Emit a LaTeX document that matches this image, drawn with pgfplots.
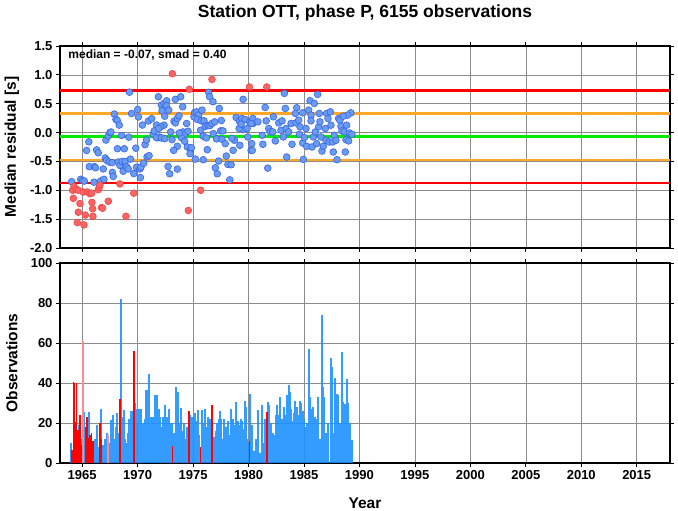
\documentclass[border=0pt]{standalone}
\usepackage{fontspec}
\setmainfont{Liberation Sans}
\usepackage{pgfplots}
\pgfplotsset{compat=1.18}
\definecolor{gridgray}{RGB}{140,140,140}
\definecolor{lineorange}{RGB}{255,168,40}
\definecolor{linegreen}{RGB}{0,235,0}
\definecolor{ptblue}{RGB}{105,155,240}
\definecolor{ptblueedge}{RGB}{55,100,230}
\definecolor{ptred}{RGB}{250,100,100}
\definecolor{ptrededge}{RGB}{238,70,70}
\definecolor{barblue}{RGB}{30,144,255}
\definecolor{lightred}{RGB}{255,140,140}
\pgfplotsset{
  myaxis/.style={
    scale only axis, width=610pt,
    xmin=1963, xmax=2018,
    xtick={1965,1970,...,2015},
    grid=major, major grid style={gridgray, line width=0.6pt},
    tick align=outside, major tick length=4pt,
    every tick/.style={black, line width=0.8pt},
    axis line style={line width=1.3pt},
    tick label style={font=\bfseries\fontsize{13}{13}\selectfont},
    /pgf/number format/assume math mode=true,
    /pgf/number format/1000 sep={},
    label style={font=\bfseries\fontsize{15.5}{15.5}\selectfont},
  }
}
\begin{document}
\begin{tikzpicture}
\useasboundingbox (0,0) rectangle (678pt,511pt);
% ---------------- top panel
\begin{axis}[myaxis, at={(60pt,263pt)}, anchor=south west, height=202pt,
  ymin=-2, ymax=1.5, ytick={-2,-1.5,...,1.5},
  yticklabel style={/pgf/number format/.cd, fixed, fixed zerofill, precision=1},
  xticklabel=\empty,
  ylabel={Median residual [s]},
  ylabel style={at={(axis description cs:-0.079,0.5)}, anchor=center, rotate=0},
]
\addplot[red, line width=2.3pt] coordinates {(1963,0.73) (2018,0.73)};
\addplot[red, line width=2.3pt] coordinates {(1963,-0.87) (2018,-0.87)};
\addplot[lineorange, line width=2.3pt] coordinates {(1963,0.33) (2018,0.33)};
\addplot[lineorange, line width=2.3pt] coordinates {(1963,-0.47) (2018,-0.47)};
\addplot[linegreen, line width=3.5pt] coordinates {(1963,-0.07) (2018,-0.07)};
% blue points
\addplot[only marks, mark=*, mark size=3.4pt, mark options={fill=ptblue, draw=ptblueedge, line width=0.6pt}] table {
x y
1964.05 -0.85
1964.86 -0.81
1965.04 -0.83
1965.19 -0.84
1965.40 -0.31
1965.60 -0.16
1965.64 -0.59
1966.06 -0.86
1966.10 -0.59
1966.20 -0.61
1966.30 -0.30
1966.45 -0.35
1966.66 -0.84
1966.90 -0.63
1966.96 -0.81
1967.08 -0.44
1967.14 -0.13
1967.20 -0.48
1967.35 -0.06
1967.44 -0.51
1967.50 0.00
1967.60 0.01
1967.70 -0.52
1967.72 -0.69
1967.80 -0.76
1967.90 0.32
1968.04 0.23
1968.16 0.21
1968.18 -0.28
1968.25 -0.51
1968.34 0.13
1968.40 -0.57
1968.55 -0.05
1968.60 -0.50
1968.70 -0.67
1968.80 -0.28
1968.88 -0.50
1969.00 -0.59
1969.15 -0.63
1969.20 -0.08
1969.26 0.70
1969.35 -0.46
1969.45 0.33
1969.65 -0.71
1969.83 -0.27
1969.90 -0.60
1970.00 0.40
1970.07 0.27
1970.20 -0.63
1970.25 -0.78
1970.30 -0.60
1970.43 0.13
1970.55 -0.53
1970.67 -0.21
1970.80 -0.13
1970.85 -0.42
1970.97 0.20
1971.03 -0.40
1971.27 0.24
1971.40 -0.03
1971.50 0.03
1971.70 0.13
1971.80 -0.09
1971.87 0.62
1972.14 0.476
1972.38 0.505
1972.62 0.551
1972.59 0.464
1972.20 0.377
1972.80 0.389
1972.44 0.284
1972.38 0.128
1972.08 0.099
1971.90 0.07
1971.96 -0.076
1971.69 -0.087
1972.14 -0.093
1972.44 -0.105
1972.98 0.011
1973.10 -0.122
1973.28 0.197
1973.40 0.168
1973.58 0.244
1973.73 0.29
1973.40 0.575
1973.88 0.621
1974.06 0.447
1974.09 0.011
1974.24 -0.029
1973.94 -0.087
1973.76 -0.006
1973.58 -0.238
1973.25 -0.308
1972.74 -0.587
1972.89 -0.714
1973.58 -0.633
1974.24 -0.151
1974.42 0.157
1974.54 0.023
1974.48 -0.25
1974.78 -0.285
1974.84 -0.262
1974.72 -0.366
1975.20 -0.459
1975.08 0.273
1975.14 0.348
1975.32 0.36
1975.50 0.302
1975.38 0.226
1975.74 0.203
1975.80 0.389
1975.98 0.203
1975.68 0.04
1975.92 -0.064
1976.10 0.11
1976.19 -0.093
1976.28 -0.296
1976.34 0.122
1976.52 0.122
1976.70 0.157
1976.94 0.186
1976.40 0.697
1976.49 0.621
1976.79 0.534
1975.92 -0.471
1977.30 -0.494
1977.00 -0.61
1977.18 -0.714
1976.82 -0.018
1977.12 -0.11
1977.48 0.029
1977.54 0.209
1977.36 0.418
1977.60 -0.116
1977.69 0.029
1977.90 -0.192
1977.99 -0.407
1978.14 -0.552
1978.43 -0.558
1978.31 -0.819
1978.61 -0.308
1978.73 -0.134
1978.49 -0.099
1978.88 0.261
1979.18 0.197
1979.21 -0.221
1979.39 0.244
1979.51 0.575
1979.57 0.052
1979.69 0.226
1979.87 0.07
1979.93 -0.076
1980.23 -0.308
1980.11 0.18
1980.29 -0.192
1980.41 0.157
1979.15 0.07
1979.33 0.145
1983.23 0.679
1986.23 0.662
1985.54 0.552
1985.93 0.505
1981.50 0.435
1983.32 0.418
1984.34 0.43
1984.88 0.342
1985.42 0.389
1985.63 0.302
1986.38 0.331
1987.04 0.331
1987.37 0.36
1989.23 0.342
1988.93 0.302
1980.39 0.244
1980.84 0.186
1980.24 0.157
1980.33 -0.308
1981.29 -0.203
1981.23 -0.047
1981.59 0.203
1981.82 0.07
1981.94 0.011
1982.24 0.273
1982.18 0.011
1982.42 -0.145
1982.72 0.168
1983.02 0.203
1982.93 0.04
1983.14 -0.076
1983.38 0.07
1983.62 0.011
1983.83 0.157
1983.92 -0.203
1984.22 0.331
1984.28 0.168
1984.52 0.215
1984.64 0.099
1984.58 -0.029
1984.88 -0.18
1985.03 -0.087
1985.18 0.07
1985.24 -0.238
1985.63 0.203
1985.72 -0.25
1985.84 -0.076
1986.02 0.011
1986.14 -0.192
1986.32 0.099
1986.44 0.186
1986.53 -0.076
1986.62 -0.32
1986.74 -0.238
1986.92 0.07
1986.98 -0.134
1987.16 0.244
1987.28 -0.163
1987.43 0.128
1987.58 -0.163
1987.73 -0.047
1987.64 -0.337
1987.88 -0.134
1988.12 0.244
1988.24 0.215
1988.33 0.11
1988.42 0.029
1988.54 0.284
1988.63 0.011
1988.78 -0.122
1988.72 -0.337
1988.84 0.128
1989.02 -0.145
1989.08 -0.006
1989.32 -0.029
1983.44 -0.424
1981.73 -0.616
1984.94 -0.465
1987.97 -0.47
};
% red points
\addplot[only marks, mark=*, mark size=3.4pt, mark options={fill=ptred, draw=ptrededge, line width=0.6pt}] table {
x y
1964.14 -1.00
1964.20 -1.14
1964.26 -0.935
1964.44 -0.98
1964.56 -1.56
1964.65 -1.00
1964.65 -1.38
1964.80 -1.23
1965.10 -1.03
1965.16 -1.60
1965.28 -1.43
1965.46 -1.03
1965.70 -1.06
1965.85 -1.05
1965.88 -1.21
1965.94 -1.32
1965.97 -1.45
1966.45 -0.99
1966.54 -0.95
1966.60 -0.91
1966.75 -1.30
1966.84 -1.31
1967.35 -1.19
1968.40 -0.89
1968.94 -1.45
1969.65 -1.05
1973.13 1.02
1974.57 -1.35
1974.66 0.75
1975.68 -1.00
1976.70 0.92
1980.08 0.79
1981.64 0.79
};
\node[anchor=base west, font=\bfseries\fontsize{12}{12}\selectfont] at (axis description cs:0.008,0.936) {median = -0.07, smad = 0.40};
\end{axis}
% ---------------- bottom panel
\begin{axis}[myaxis, at={(60pt,48pt)}, anchor=south west, height=200pt,
  ymin=0, ymax=100, ytick={0,20,...,100},
  xlabel={Year}, ylabel={Observations},
  xlabel style={at={(axis description cs:0.5,-0.2)}, anchor=center},
  ylabel style={at={(axis description cs:-0.079,0.5)}, anchor=center},
]
\addplot[ycomb, barblue, opacity=0.9, line width=2.1pt] table {
x y
1964.02 10
1964.72 19
1965.02 12
1965.19 25.6
1965.38 15
1965.64 25.6
1965.78 10
1966.05 11
1966.20 12
1966.30 19
1966.45 8
1966.66 27
1966.90 9
1967.05 12
1967.20 15
1967.45 10
1967.59 21.5
1967.70 17
1967.80 24
1967.95 12
1968.05 18
1968.13 25
1968.30 15
1968.49 81.9
1968.58 23
1968.68 14
1968.76 26.6
1968.85 12
1969.00 10
1969.10 15
1969.24 22
1969.35 10
1969.45 26
1969.55 14
1969.74 30
1969.85 27
1970.00 20
1970.10 27
1970.20 24
1970.30 27
1970.45 20
1970.55 17
1970.65 22
1970.80 36.5
1970.90 24
1971.03 44.6
1971.13 18
1971.25 23
1971.35 23
1971.45 23
1971.57 34
1971.67 20
1971.78 33.9
1971.90 27
1972.00 23
1972.14 17.8
1972.25 23
1972.35 15
1972.50 29
1972.60 23
1972.72 19
1972.85 27
1972.95 11
1973.05 20
1973.25 15
1973.35 12
1973.49 38
1973.61 35.6
1973.70 18
1973.82 20
1973.94 27.5
1974.05 16
1974.15 20
1974.30 12
1974.45 18
1974.75 24
1974.85 20
1974.95 23
1975.05 19
1975.15 25
1975.30 21
1975.42 26.6
1975.55 14
1975.78 26.6
1975.90 20
1976.00 16
1976.10 27
1976.22 18
1976.35 23
1976.50 22
1976.85 13
1976.95 13
1977.10 16
1977.20 20
1977.35 22
1977.45 26
1977.55 22
1977.65 12
1977.75 22
1977.85 17
1977.95 18
1978.05 9
1978.15 21
1978.30 14
1978.40 27
1978.50 7
1978.60 22
1978.70 19
1978.89 30.6
1979.00 21
1979.10 19
1979.20 17
1979.33 22
1979.45 21
1979.55 17
1979.70 31
1979.81 28
1979.90 12
1980.00 10
1980.17 34.7
1980.28 17
1980.35 19
1980.50 6
1980.70 12.1
1980.84 26.5
1980.95 4
1981.05 5
1981.23 29
1981.35 10
1981.48 22
1981.76 30.6
1981.88 29
1982.00 20
1982.10 15
1982.20 15
1982.32 14
1982.45 24
1982.55 29
1982.65 24
1982.84 33.2
1982.95 21
1983.05 22
1983.18 28
1983.28 24
1983.47 34
1983.62 38.8
1983.72 35.5
1983.85 27
1983.98 21
1984.10 25
1984.20 31
1984.30 26
1984.40 28
1984.55 24
1984.65 31
1984.75 30
1984.88 26
1985.00 22
1985.10 18
1985.25 20
1985.42 57.1
1985.55 33
1985.65 25
1985.75 27
1985.85 28
1985.98 23
1986.10 22
1986.30 33
1986.45 12
1986.62 74.1
1986.72 38
1986.82 33
1986.90 15
1987.05 15
1987.18 20
1987.40 52.6
1987.50 48
1987.62 15
1987.82 42.7
1987.95 34.7
1988.05 34
1988.20 20
1988.42 55.7
1988.52 30.5
1988.65 29.6
1988.84 41.8
1988.95 30
1989.05 15
1989.15 20
1989.32 11.6
};
\addplot[ycomb, red, line width=1.6pt] table {
x y
1964.08 6.6
1964.20 40.6
1964.28 39.8
1964.41 20.6
1964.50 39.8
1964.60 16.5
1964.80 24
1964.88 9
1965.31 18
1965.46 23
1965.58 12.5
1965.70 14
1965.85 15
1965.95 11
1966.60 20
1966.75 12
1968.43 32
1969.65 55.8
1973.13 8.5
1974.63 26
1975.68 8
1976.70 29
1980.08 11
1981.64 25.6
};
\addplot[ycomb, lightred, line width=1.6pt] table {
x y
1965.10 60.8
1967.35 14
};
\end{axis}
\node[anchor=base, font=\bfseries\fontsize{17.5}{17.5}\selectfont] at (365pt,493pt) {Station OTT, phase P, 6155 observations};
\end{tikzpicture}
\end{document}
